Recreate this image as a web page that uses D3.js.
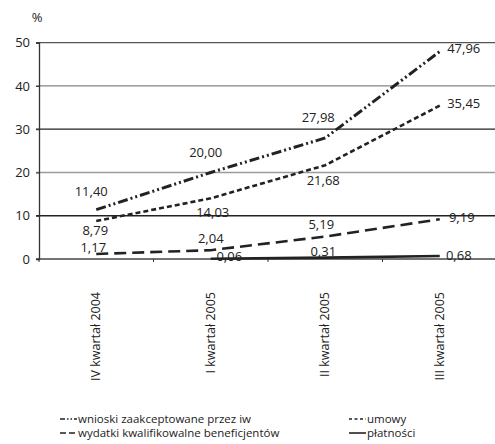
<!DOCTYPE html>
<html>
<head>
<meta charset="utf-8">
<script src="https://cdn.jsdelivr.net/npm/d3@7"></script>
<style>
  html, body { margin: 0; padding: 0; background: #fff; }
  svg text { font-family: "Open Sans", "Noto Sans", sans-serif; fill: #222; }
</style>
</head>
<body>
<svg id="chart" width="495" height="444"></svg>
<script>
// Quarters on the x axis
const quarters = ["IV kwartał 2004", "I kwartał 2005", "II kwartał 2005", "III kwartał 2005"];

// Series values (%), null where no value exists
const wnioski = [11.40, 20.00, 27.98, 47.96];
const umowy = [8.79, 14.03, 21.68, 35.45];
const wydatki = [1.17, 2.04, 5.19, 9.19];
const platnosci = [null, 0.06, 0.31, 0.68];

const yTicks = [0, 10, 20, 30, 40, 50];
const seriesNames = ["wnioski zaakceptowane przez iw", "umowy", "wydatki kwalifikowalne beneficjentów", "płatności"];

const svg = d3.select("#chart");
const plotLeft = 39, plotRight = 497, plotTop = 42.7, plotBottom = 259;

const x = d3.scaleBand().domain(quarters).range([plotLeft, plotRight]);
const y = d3.scaleLinear().domain([0, 50]).range([plotBottom, plotTop]);
const cx = q => x(q) + x.bandwidth() / 2;

// Horizontal gridlines with alternating tone
const gridColor = {0: "#444", 10: "#222", 20: "#9a9a9a", 30: "#222", 40: "#858585", 50: "#555"};
svg.append("g").selectAll("line").data(yTicks).join("line")
  .attr("x1", plotLeft - 3).attr("x2", 495)
  .attr("y1", d => y(d)).attr("y2", d => y(d))
  .attr("stroke", d => gridColor[d]).attr("stroke-width", 1.3);

// Y axis
const yAxis = svg.append("g").attr("transform", `translate(${plotLeft},0)`)
  .call(d3.axisLeft(y).tickValues(yTicks).tickSize(3).tickPadding(6));
yAxis.select(".domain").attr("stroke", "#333").attr("stroke-width", 1.3);
yAxis.selectAll(".tick line").attr("stroke", "#333");
yAxis.selectAll("text").style("font-size", "13px").attr("fill", "#222")
  .style("font-family", "'Open Sans', sans-serif");

svg.append("text").attr("x", 37).attr("y", 22).attr("text-anchor", "middle")
  .style("font-size", "13px").text("%");

// X axis ticks at band boundaries
const xb = x.domain().map(q => x(q)).concat([plotRight]);
svg.append("g").selectAll("line").data(xb).join("line")
  .attr("x1", d => d).attr("x2", d => d).attr("y1", plotBottom).attr("y2", plotBottom + 3)
  .attr("stroke", "#333").attr("stroke-width", 1);

// Rotated category labels
svg.append("g").selectAll("text").data(quarters).join("text")
  .attr("transform", q => `translate(${cx(q) + 4},292) rotate(-90)`)
  .attr("text-anchor", "end")
  .style("font-size", "12.5px")
  .text(q => q);

// Series lines
const styles = [
  {data: wnioski, dash: "10,3,2,3,2,3", w: 3},
  {data: umowy, dash: "5,3", w: 2.6},
  {data: wydatki, dash: "12,6", w: 2.6},
  {data: platnosci, dash: null, w: 2.6}
];
const line = d3.line()
  .defined(d => d.v != null)
  .x(d => cx(d.q)).y(d => y(d.v));

styles.forEach(s => {
  const pts = quarters.map((q, i) => ({q, v: s.data[i]}));
  svg.append("path").datum(pts)
    .attr("d", line)
    .attr("fill", "none")
    .attr("stroke", "#222")
    .attr("stroke-width", s.w)
    .attr("stroke-dasharray", s.dash);
});

// Value labels (Polish decimal comma)
const fmt = v => d3.format(".2f")(v).replace(".", ",");
// offsets: [dx, dy] relative to the data point, per series and quarter
const labelPos = [
  [[-5, -18], [-5, -20], [-7, -21], [24, -3]],
  [[-1, 9], [2, 14], [-2, 15], [24, -2]],
  [[-3, -6], [0, -12], [-4, -12.5], [22, -2]],
  [null, [18.5, -2], [-2, -6], [19, -1]]
];
styles.forEach((s, si) => {
  s.data.forEach((v, i) => {
    if (v == null) return;
    const [dx, dy] = labelPos[si][i];
    svg.append("text")
      .attr("x", cx(quarters[i]) + dx)
      .attr("y", y(v) + dy)
      .attr("dy", "0.35em")
      .attr("text-anchor", "middle")
      .style("font-size", "13px")
      .text(fmt(v));
  });
});

// Legend
const legendItems = [
  {name: seriesNames[0], x: 60, y: 419},
  {name: seriesNames[1], x: 349, y: 419},
  {name: seriesNames[2], x: 60, y: 433},
  {name: seriesNames[3], x: 349, y: 433}
];
const legendDash = ["5,2,1.5,2,1.5,2", "3,2.5", "6,3", null];
legendItems.forEach((it, i) => {
  svg.append("line")
    .attr("x1", it.x).attr("x2", it.x + 17)
    .attr("y1", it.y).attr("y2", it.y)
    .attr("stroke", "#222").attr("stroke-width", 1.6)
    .attr("stroke-dasharray", legendDash[i]);
  svg.append("text")
    .attr("x", it.x + 18).attr("y", it.y).attr("dy", "0.35em")
    .style("font-size", "11.5px")
    .text(it.name);
});
</script>
</body>
</html>
